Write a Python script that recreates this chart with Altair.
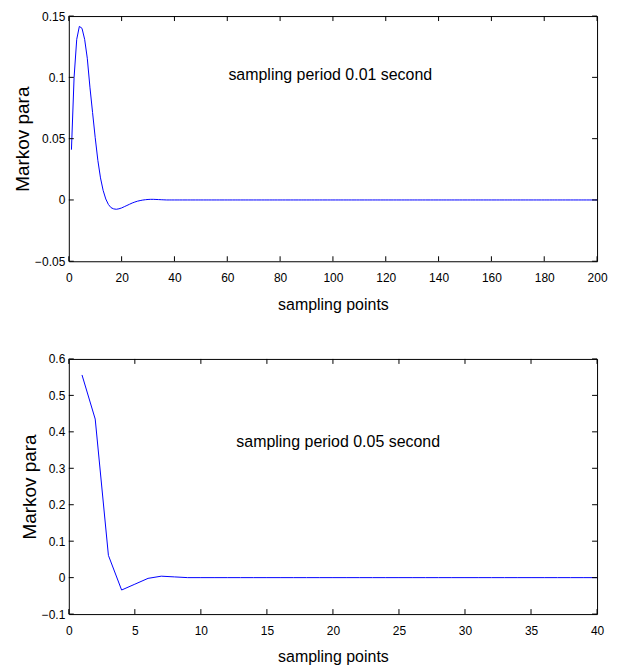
import altair as alt
import pandas as pd

# ---------------- data ----------------
# top panel: sampling period 0.01 s, 200 Markov parameters
top_x = list(range(1, 201))
top_y_head = [0.041, 0.100, 0.131, 0.1416, 0.140, 0.131, 0.1156, 0.092, 0.0713, 0.0508,
              0.0323, 0.018, 0.0078, 0.0008, -0.0037, -0.0063, -0.0073, -0.0076, -0.0072, -0.0065,
              -0.0055, -0.0045, -0.0035, -0.0025, -0.0017, -0.0010, -0.0005, -0.0001, 0.0002, 0.0004,
              0.0005, 0.0005, 0.0004, 0.0003, 0.0002, 0.0001, 0.0, 0.0, 0.0, 0.0]
top_y = top_y_head + [0.0] * (200 - len(top_y_head))

# bottom panel: sampling period 0.05 s, 40 Markov parameters
bot_x = list(range(1, 41))
bot_y_head = [0.556, 0.435, 0.061, -0.034, -0.018, -0.002, 0.004, 0.002, 0.0, 0.0]
bot_y = bot_y_head + [0.0] * (40 - len(bot_y_head))

top_xticks = [0, 20, 40, 60, 80, 100, 120, 140, 160, 180, 200]
top_yticks = [-0.05, 0, 0.05, 0.1, 0.15]
bot_xticks = [0, 5, 10, 15, 20, 25, 30, 35, 40]
bot_yticks = [-0.1, 0, 0.1, 0.2, 0.3, 0.4, 0.5, 0.6]

top_note = "sampling period 0.01 second"
bot_note = "sampling period 0.05 second"
top_note_pos = (99, 0.102)
bot_note_pos = (20.4, 0.373)

xlabel = "sampling points"
ylabel = "Markov para"

FONT = "Liberation Sans, Arial, Helvetica"
W = 530
TICK = 5


def panel(xs, ys, xticks, yticks, xdom, ydom, yfmt, note, note_pos, height):
    df = pd.DataFrame({"x": xs, "y": ys})
    xsc = alt.Scale(domain=xdom, nice=False, zero=False)
    ysc = alt.Scale(domain=ydom, nice=False, zero=False)
    xaxis = alt.Axis(values=xticks, format="d", ticks=False, domain=False, grid=False,
                     labelFlush=False, labelOverlap=False, labelPadding=11, labelFont=FONT,
                     labelFontSize=12, labelColor="black", title=xlabel, titleFont=FONT,
                     titleFontSize=16, titleFontWeight="normal", titleColor="black",
                     titlePadding=13)
    yaxis = alt.Axis(values=yticks, format=yfmt, ticks=False, domain=False, grid=False,
                     labelOverlap=False, labelFlush=False, labelFont=FONT, labelFontSize=12,
                     labelColor="black", labelPadding=4, title=ylabel, titleFont=FONT,
                     titleFontSize=19, titleFontWeight="normal", titleColor="black",
                     titlePadding=2)
    X = lambda f: alt.X(f, scale=xsc, axis=xaxis, title=xlabel)
    Y = lambda f: alt.Y(f, scale=ysc, axis=yaxis, title=ylabel)
    line = alt.Chart(df).mark_line(color="#0000ff", strokeWidth=1, clip=True).encode(
        x=X("x:Q"), y=Y("y:Q"))
    xt = pd.DataFrame({"t": xticks})
    yt = pd.DataFrame({"t": yticks})
    rx_b = alt.Chart(xt).mark_rule(color="black", strokeWidth=1).encode(
        x=X("t:Q"), y=alt.value(height), y2=alt.value(height - TICK))
    rx_t = alt.Chart(xt).mark_rule(color="black", strokeWidth=1).encode(
        x=X("t:Q"), y=alt.value(0), y2=alt.value(TICK))
    ry_l = alt.Chart(yt).mark_rule(color="black", strokeWidth=1).encode(
        y=Y("t:Q"), x=alt.value(0), x2=alt.value(TICK))
    ry_r = alt.Chart(yt).mark_rule(color="black", strokeWidth=1).encode(
        y=Y("t:Q"), x=alt.value(W), x2=alt.value(W - TICK))
    nd = pd.DataFrame({"x": [note_pos[0]], "y": [note_pos[1]], "label": [note]})
    txt = alt.Chart(nd).mark_text(font=FONT, fontSize=16, color="black", align="center",
                                  baseline="middle").encode(
        x=X("x:Q"), y=Y("y:Q"), text="label:N")
    return alt.layer(line, rx_b, rx_t, ry_l, ry_r, txt).properties(width=W, height=height)


top = panel(top_x, top_y, top_xticks, top_yticks, [0, 200], [-0.05, 0.15], ".2~f",
            top_note, top_note_pos, 246)
bot = panel(bot_x, bot_y, bot_xticks, bot_yticks, [0, 40], [-0.1, 0.6], ".1~f",
            bot_note, bot_note_pos, 256)

chart = alt.vconcat(top, bot, spacing=39).properties(
    padding={"left": 5, "top": 0, "right": 5, "bottom": 0},
    background="white",
).configure_view(stroke="black", strokeWidth=1)

chart.save("out.html", embed_options={"renderer": "svg", "actions": False})
